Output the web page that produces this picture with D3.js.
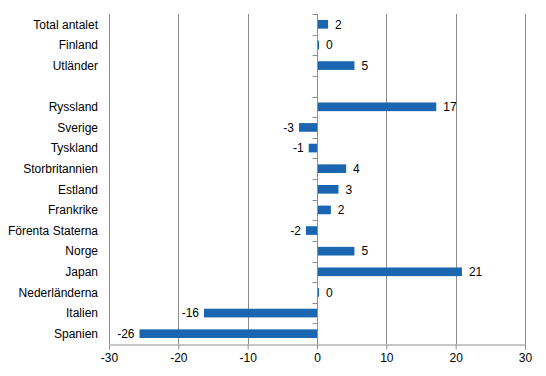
<!DOCTYPE html>
<html>
<head>
<meta charset="utf-8">
<script src="https://cdn.jsdelivr.net/npm/d3@7"></script>
<style>
  body { margin: 0; background: #fff; }
  text { font-family: "Liberation Sans", Arial, sans-serif; font-size: 12px; fill: #000; }
</style>
</head>
<body>
<div id="chart-area"></div>
<script>
var categories = ["Total antalet", "Finland", "Utländer", "", "Ryssland", "Sverige", "Tyskland",
    "Storbritannien", "Estland", "Frankrike", "Förenta Staterna", "Norge", "Japan",
    "Nederländerna", "Italien", "Spanien"];
var values = [1.6, 0.3, 5.4, null, 17.2, -2.6, -1.2, 4.2, 3.1, 2.0, -1.6, 5.4, 20.9, 0.3, -16.3, -25.6];
var xTicks = [-30, -20, -10, 0, 10, 20, 30];

var margin = { left: 109, right: 21, top: 14, bottom: 32 };
var width = 546 - margin.left - margin.right,
    height = 376 - margin.top - margin.bottom;

var data = categories.map(function(c, i) { return { cat: c, key: i, value: values[i] }; });

var svg = d3.select("#chart-area")
    .append("svg")
        .attr("width", 546)
        .attr("height", 376);

var g = svg.append("g")
    .attr("transform", "translate(" + margin.left + ", " + margin.top + ")");

var xScale = d3.scaleLinear()
    .domain([-30, 30])
    .range([0, width]);

var yScale = d3.scaleBand()
    .domain(data.map(function(d) { return d.key; }))
    .range([0, height])
    .paddingInner(0.58)
    .paddingOuter(0.29);

// grid lines
g.selectAll(".grid")
    .data(xTicks)
    .enter()
    .append("line")
        .attr("class", "grid")
        .attr("x1", function(d) { return Math.round(xScale(d)) + 0.5; })
        .attr("x2", function(d) { return Math.round(xScale(d)) + 0.5; })
        .attr("y1", 0)
        .attr("y2", height)
        .attr("stroke", "#8c8c8c")
        .attr("stroke-width", 1);

// x axis
var xAxisCall = d3.axisBottom(xScale)
    .tickValues(xTicks)
    .tickSize(5)
    .tickPadding(4)
    .tickFormat(function(d) { return String(d); });

var xAxis = g.append("g")
    .attr("class", "x axis")
    .attr("transform", "translate(0, " + (Math.round(height) + 0.5) + ")")
    .call(xAxisCall);
xAxis.select(".domain").attr("stroke", "#8c8c8c");
xAxis.selectAll(".tick line").attr("stroke", "#8c8c8c");
xAxis.selectAll("text").style("font-size", "12px").attr("fill", "#000");

// bars
g.selectAll("rect")
    .data(data.filter(function(d) { return d.value !== null; }))
    .enter()
    .append("rect")
        .attr("fill", "#1a66b0")
        .attr("x", function(d) { return xScale(Math.min(0, d.value)); })
        .attr("width", function(d) { return Math.abs(xScale(d.value) - xScale(0)); })
        .attr("y", function(d) { return yScale(d.key); })
        .attr("height", yScale.bandwidth());

// zero axis with category ticks
var step = yScale.step();
var x0 = Math.round(xScale(0)) + 0.5;
g.append("line")
    .attr("x1", x0).attr("x2", x0)
    .attr("y1", 0).attr("y2", height)
    .attr("stroke", "#8c8c8c");
g.selectAll(".ytick")
    .data(d3.range(categories.length))
    .enter()
    .append("line")
        .attr("class", "ytick")
        .attr("x1", x0 - 5).attr("x2", x0)
        .attr("y1", function(i) { return Math.round(i * step) + 0.5; })
        .attr("y2", function(i) { return Math.round(i * step) + 0.5; })
        .attr("stroke", "#8c8c8c");

// category labels
g.selectAll(".cat")
    .data(data)
    .enter()
    .append("text")
        .attr("class", "cat")
        .attr("x", -11)
        .attr("y", function(d) { return yScale(d.key) + yScale.bandwidth() / 2; })
        .attr("dy", "0.35em")
        .attr("text-anchor", "end")
        .text(function(d) { return d.cat; });

// value labels
g.selectAll(".val")
    .data(data.filter(function(d) { return d.value !== null; }))
    .enter()
    .append("text")
        .attr("class", "val")
        .attr("x", function(d) {
            return d.value >= 0 ? xScale(d.value) + 7 : xScale(d.value) - 5;
        })
        .attr("y", function(d) { return yScale(d.key) + yScale.bandwidth() / 2; })
        .attr("dy", "0.35em")
        .attr("text-anchor", function(d) { return d.value >= 0 ? "start" : "end"; })
        .text(function(d) { return Math.round(d.value); });
</script>
</body>
</html>
